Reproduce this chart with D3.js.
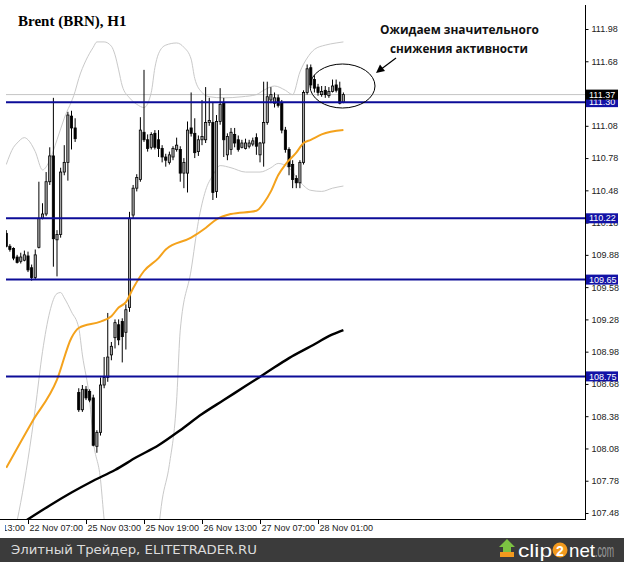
<!DOCTYPE html>
<html><head><meta charset="utf-8">
<script src="https://cdn.jsdelivr.net/npm/d3@7"></script>
<style>body{margin:0;background:#fff}svg{display:block}</style>
</head><body>
<script>
// ---------- DATA ----------
const title = "Brent (BRN), H1";
const timeLabels = ["21 Nov 13:00","22 Nov 07:00","25 Nov 03:00","25 Nov 19:00","26 Nov 13:00","27 Nov 07:00","28 Nov 01:00"];
const timeLabelBar = [-10, 6, 22, 38, 54, 70, 86];
const priceTicks = [111.98,111.68,111.08,110.78,110.48,110.18,109.88,109.58,109.28,108.98,108.68,108.38,108.08,107.78,107.48];
const levels = [111.30, 110.22, 109.65, 108.75];
const lastPrice = 111.37;

const open = [110.08,109.96,109.94,109.86,109.82,109.83,109.87,109.76,109.67,109.95,
110.22,110.26,110.56,110.80,110.02,110.07,110.65,110.74,111.17,111.06,
108.60,108.44,108.63,108.61,108.55,108.10,108.23,108.67,108.74,108.95,
109.11,109.23,109.26,109.16,109.39,110.25,110.50,110.58,111.02,110.95,
110.88,111.01,110.95,110.87,110.79,110.74,110.79,110.86,110.86,110.64,
110.64,111.06,111.01,110.84,110.95,110.95,111.11,111.11,110.47,111.12,
111.29,110.81,110.86,111.00,110.95,110.88,110.87,110.89,110.91,110.97,
110.81,110.92,111.11,111.32,111.29,111.34,111.29,111.04,110.86,110.72,
110.59,110.55,110.74,111.39,111.62,111.51,111.44,111.37,111.41,111.36,
111.40,111.46,111.43,111.30];
const high = [110.11,109.98,109.95,109.88,109.90,109.92,109.91,109.79,109.93,110.56,
110.36,110.65,110.88,111.34,110.11,110.69,110.90,111.21,111.22,111.15,
108.64,108.67,108.66,108.63,108.58,108.25,108.74,108.93,109.34,109.07,
109.28,109.28,109.29,109.42,110.28,110.53,110.63,111.16,111.60,111.00,
111.02,111.04,111.04,110.90,110.82,110.84,110.89,110.97,110.89,110.78,
111.12,111.39,111.15,110.99,111.32,111.44,111.34,111.30,111.18,111.43,
111.34,111.01,111.06,111.06,110.99,110.95,110.96,110.95,110.97,111.01,
110.93,111.49,111.49,111.44,111.39,111.37,111.32,111.07,110.88,110.76,
110.62,110.76,111.41,111.65,111.65,111.55,111.47,111.45,111.45,111.44,
111.51,111.51,111.49,111.39];
const low = [109.95,109.91,109.83,109.80,109.80,109.82,109.72,109.64,109.65,109.94,
110.21,110.24,110.53,109.77,109.68,110.04,110.62,110.57,110.86,110.93,
108.42,108.42,108.53,108.51,108.10,108.04,108.20,108.64,108.70,108.90,
109.01,109.04,108.88,109.00,109.35,110.22,110.47,110.56,110.93,110.84,
110.86,110.86,110.79,110.74,110.70,110.72,110.76,110.84,110.56,110.50,
110.46,110.98,110.78,110.80,110.90,110.92,111.08,110.39,110.41,111.09,
110.79,110.76,110.81,110.88,110.84,110.87,110.86,110.87,110.89,110.81,
110.74,110.70,111.09,111.29,111.25,111.25,111.01,110.83,110.62,110.50,
110.50,110.50,110.72,111.37,111.43,111.39,111.36,111.35,111.34,111.34,
111.39,111.39,111.28,111.29];
const close = [109.96,109.93,109.85,109.81,109.86,109.88,109.74,109.67,109.88,110.22,
110.26,110.56,110.80,110.03,110.07,110.65,110.74,111.18,111.06,110.96,
108.44,108.63,108.55,108.53,108.11,108.23,108.67,108.74,108.93,109.03,
109.25,109.09,109.12,109.37,110.22,110.50,110.60,111.04,110.95,110.87,
111.00,110.88,110.87,110.79,110.76,110.81,110.87,110.90,110.64,110.74,
111.04,111.01,110.83,110.95,110.98,111.11,111.13,110.46,111.12,111.28,
110.95,110.98,111.02,110.92,110.86,110.92,110.92,110.92,110.94,110.89,
110.92,111.11,111.35,111.37,111.34,111.27,111.04,110.86,110.70,110.58,
110.55,110.74,111.39,111.61,111.46,111.43,111.39,111.40,111.37,111.40,
111.45,111.41,111.29,111.37];

// orange moving average (bar index, value)
const maFastBar = [0,7,14,18,20,26,29,31,33,35,38,42,44,51,55,58,62,69,71,73,75,77,80,82,84,87,93];
const maFastVal = [107.90,108.32,108.72,109.11,109.20,109.26,109.31,109.39,109.44,109.57,109.73,109.85,109.93,110.04,110.13,110.21,110.26,110.29,110.36,110.47,110.62,110.72,110.83,110.92,110.95,111.00,111.04];
// black moving average
const maSlowBar = [5,12,18,24,30,36,42,48,54,60,66,72,78,84,90,93];
const maSlowVal = [107.40,107.55,107.67,107.78,107.88,108.00,108.11,108.25,108.40,108.53,108.66,108.79,108.92,109.03,109.14,109.18];
// bands
const upperBar = [0,2,3,5,6,8,10,12,14,16,19,20,22,24,25,27,29,30,31,32,34,36,38,40,41,42,44,47,49,51,52,54,56,60,65,69,71,74,77,79,81,83,85,88,91,93];
const upperVal = [110.72,110.88,110.92,110.97,110.95,110.84,110.67,110.76,110.95,111.15,111.40,111.52,111.69,111.81,111.86,111.86,111.82,111.74,111.60,111.45,111.34,111.28,111.25,111.39,111.62,111.75,111.83,111.85,111.81,111.70,111.52,111.39,111.35,111.34,111.35,111.37,111.41,111.45,111.41,111.37,111.58,111.71,111.79,111.83,111.85,111.86];
const lowerBar = [0,2,4,6,8,10,12,14,15,16,18,20,21,23,24,26,27,29,33,37,41,43,45,47,48,51,53,55,57,59,62,66,70,73,75,78,81,84,87,90,93];
const lowerVal = [106.95,107.25,107.58,107.98,108.45,108.98,109.35,109.52,109.53,109.48,109.35,109.20,108.95,108.53,108.16,107.79,107.42,106.95,106.58,106.67,107.05,107.60,107.93,108.53,109.18,109.74,110.19,110.48,110.62,110.71,110.69,110.65,110.65,110.69,110.73,110.69,110.56,110.48,110.47,110.50,110.52];

const noteLines = ["Ожидаем значительного", "снижения активности"];
const footerText = "Элитный Трейдер, ELITETRADER.RU";

// ---------- DRAW ----------
const W = 624, H = 562;
const svg = d3.select("body").append("svg").attr("width", W).attr("height", H);

const plotL = 6, plotR = 585, plotB = 519;
const x = d3.scaleLinear().domain([0, 93]).range([6.25, 343.4]);
const y = d3.scaleLinear().domain([107.48, 111.98]).range([513, 29]);

const defs = svg.append("defs");
defs.append("clipPath").attr("id", "plot")
  .append("rect").attr("x", plotL).attr("y", 0).attr("width", plotR - plotL).attr("height", plotB);
defs.append("clipPath").attr("id", "timeclip")
  .append("rect").attr("x", 5).attr("y", plotB).attr("width", plotR - 5).attr("height", 20);

const g = svg.append("g").attr("clip-path", "url(#plot)");

// Bollinger bands
const bandLine = d3.line().curve(d3.curveMonotoneX).x(d => x(d[0])).y(d => y(d[1]));
g.append("path").datum(d3.zip(upperBar, upperVal)).attr("d", bandLine)
  .attr("fill", "none").attr("stroke", "#c9c9c9").attr("stroke-width", 1);
g.append("path").datum(d3.zip(lowerBar, lowerVal)).attr("d", bandLine)
  .attr("fill", "none").attr("stroke", "#c9c9c9").attr("stroke-width", 1);

// current price line
g.append("line").attr("x1", plotL).attr("x2", plotR)
  .attr("y1", y(lastPrice)).attr("y2", y(lastPrice))
  .attr("stroke", "#c4c4c4").attr("stroke-width", 1);

// candles
const idx = d3.range(open.length);
const cg = g.append("g");
cg.selectAll("line.wick").data(idx).join("line").attr("class", "wick")
  .attr("x1", i => x(i)).attr("x2", i => x(i))
  .attr("y1", i => y(high[i])).attr("y2", i => y(low[i]))
  .attr("stroke", "#000").attr("stroke-width", 1);
cg.selectAll("rect.body").data(idx).join("rect").attr("class", "body")
  .attr("x", i => x(i) - 1.1).attr("width", 2.2)
  .attr("y", i => y(Math.max(open[i], close[i])))
  .attr("height", i => Math.max(0.8, Math.abs(y(open[i]) - y(close[i]))))
  .attr("fill", i => close[i] >= open[i] ? "#a3a3a3" : "#000")
  .attr("stroke", "#000").attr("stroke-width", 0.8);

// moving averages
const maLine = d3.line().curve(d3.curveMonotoneX).x(d => x(d[0])).y(d => y(d[1]));
g.append("path").datum(d3.zip(maFastBar, maFastVal)).attr("d", maLine)
  .attr("fill", "none").attr("stroke", "#f4a21c").attr("stroke-width", 2);
g.append("path").datum(d3.zip(maSlowBar, maSlowVal)).attr("d", maLine)
  .attr("fill", "none").attr("stroke", "#000").attr("stroke-width", 2.4);

// horizontal levels
g.selectAll("line.level").data(levels).join("line").attr("class", "level")
  .attr("x1", plotL).attr("x2", plotR)
  .attr("y1", d => y(d)).attr("y2", d => y(d))
  .attr("stroke", "#0c0c98").attr("stroke-width", 2);

// axes frame
svg.append("line").attr("x1", plotR + 0.5).attr("x2", plotR + 0.5).attr("y1", 5).attr("y2", plotB + 1)
  .attr("stroke", "#000").attr("stroke-width", 1);
svg.append("line").attr("x1", 0).attr("x2", plotR + 1).attr("y1", plotB + 0.5).attr("y2", plotB + 0.5)
  .attr("stroke", "#000").attr("stroke-width", 1);

// price axis
const yAxis = d3.axisRight(y).tickValues(priceTicks).tickSize(3).tickPadding(3).tickFormat(d3.format(".2f"));
const ya = svg.append("g").attr("transform", `translate(${plotR + 0.5},0)`).call(yAxis);
ya.select(".domain").remove();
ya.selectAll("text").attr("font-family", "Liberation Sans, Arial, sans-serif").attr("font-size", 9).attr("fill", "#222");
ya.selectAll("line").attr("stroke", "#000");

// level boxes
function priceBox(v, bg) {
  const gg = svg.append("g");
  gg.append("rect").attr("x", plotR + 1).attr("y", y(v) - 5).attr("width", 32).attr("height", 10).attr("fill", bg);
  gg.append("text").attr("x", plotR + 4).attr("y", y(v)).attr("dy", "0.35em")
    .attr("font-family", "Liberation Sans, Arial, sans-serif").attr("font-size", 9).attr("fill", "#fff")
    .text(d3.format(".2f")(v));
}
levels.forEach(v => priceBox(v, "#1212a6"));
priceBox(lastPrice, "#000");

// time axis
const tg = svg.append("g");
const tl = svg.append("g").attr("clip-path", "url(#timeclip)");
timeLabels.forEach((t, k) => {
  const xx = Math.round(x(timeLabelBar[k])) + 0.5;
  tg.append("line").attr("x1", xx).attr("x2", xx).attr("y1", plotB).attr("y2", plotB + 5).attr("stroke", "#000");
  tl.append("text").attr("x", xx + 1).attr("y", 531)
    .attr("font-family", "Liberation Sans, Arial, sans-serif").attr("font-size", 9).attr("fill", "#222").text(t);
});

// title
svg.append("text").attr("x", 18).attr("y", 26)
  .attr("font-family", "Liberation Serif, Times New Roman, serif").attr("font-weight", "bold")
  .attr("font-size", 15).attr("fill", "#000").text(title);

// annotation
svg.append("text").attr("x", 380).attr("y", 34).attr("textLength", 159).attr("lengthAdjust", "spacingAndGlyphs")
  .attr("font-family", "Open Sans, Noto Sans, sans-serif").attr("font-weight", "bold").attr("font-size", 12.5)
  .attr("fill", "#111").text(noteLines[0]);
svg.append("text").attr("x", 390).attr("y", 53).attr("textLength", 138).attr("lengthAdjust", "spacingAndGlyphs")
  .attr("font-family", "Open Sans, Noto Sans, sans-serif").attr("font-weight", "bold").attr("font-size", 12.5)
  .attr("fill", "#111").text(noteLines[1]);
svg.append("ellipse").attr("cx", 342.5).attr("cy", 86).attr("rx", 32.5).attr("ry", 22)
  .attr("fill", "none").attr("stroke", "#000").attr("stroke-width", 1);
svg.append("line").attr("x1", 396).attr("y1", 58).attr("x2", 382).attr("y2", 68.5)
  .attr("stroke", "#000").attr("stroke-width", 1.2);
svg.append("path").attr("d", "M376,73 L380,64.5 L385,71 Z").attr("fill", "#000");

// footer
svg.append("rect").attr("x", 0).attr("y", 538).attr("width", W).attr("height", H - 538).attr("fill", "#3b3b3b");
svg.append("text").attr("x", 11).attr("y", 554).attr("textLength", 246).attr("lengthAdjust", "spacingAndGlyphs")
  .attr("font-family", "DejaVu Sans, sans-serif").attr("font-size", 13).attr("fill", "#dcdcdc").text(footerText);
// clip2net logo
svg.append("rect").attr("x", 500).attr("y", 552).attr("width", 14).attr("height", 5).attr("fill", "#f39a1e");
svg.append("path").attr("d", "M503,552 L503,547 L499,547 L507,539 L515,547 L511,547 L511,552 Z").attr("fill", "#7cc242");
svg.append("text").attr("x", 518).attr("y", 557).attr("textLength", 34).attr("lengthAdjust", "spacingAndGlyphs")
  .attr("font-family", "Liberation Sans, Arial, sans-serif").attr("font-size", 19).attr("fill", "#fff").text("clip");
svg.append("circle").attr("cx", 560).attr("cy", 550).attr("r", 7.5).attr("fill", "#f39a1e");
svg.append("text").attr("x", 560).attr("y", 555.5).attr("text-anchor", "middle")
  .attr("font-family", "Liberation Sans, Arial, sans-serif").attr("font-weight", "bold").attr("font-size", 14).attr("fill", "#fff").text("2");
svg.append("text").attr("x", 569).attr("y", 557).attr("textLength", 26).attr("lengthAdjust", "spacingAndGlyphs")
  .attr("font-family", "Liberation Sans, Arial, sans-serif").attr("font-size", 19).attr("fill", "#fff").text("net");
svg.append("text").attr("x", 595).attr("y", 557).attr("textLength", 19).attr("lengthAdjust", "spacingAndGlyphs")
  .attr("font-family", "Liberation Sans, Arial, sans-serif").attr("font-size", 19).attr("fill", "#9b9b9b").text(".com");
</script>
</body></html>
